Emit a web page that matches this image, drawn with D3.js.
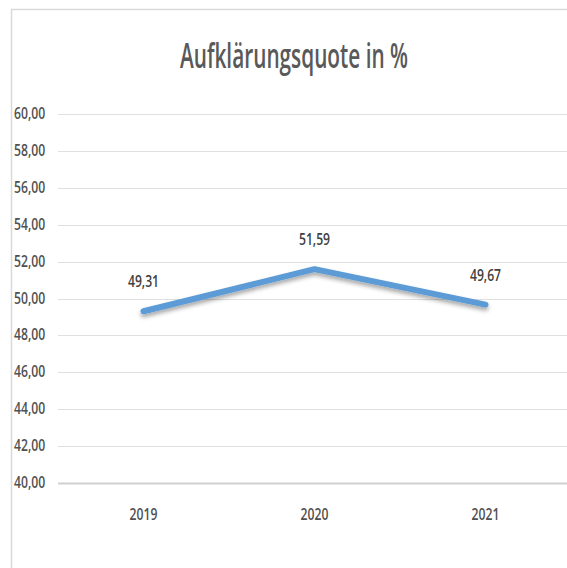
<!DOCTYPE html>
<html>
<head>
<meta charset="utf-8">
<script src="https://cdn.jsdelivr.net/npm/d3@7"></script>
<style>
  body { margin: 0; background: #fff; }
  text { font-family: "Open Sans", "Noto Sans", sans-serif; font-weight: 600; }
</style>
</head>
<body>
<div id="chart"></div>
<script>
var years = ["2019", "2020", "2021"]
var quote = [49.31, 51.59, 49.67]
var yTicks = [40, 42, 44, 46, 48, 50, 52, 54, 56, 58, 60]
var title = "Aufklärungsquote in %"

var width = 567, height = 568
var margin = {top: 114, right: -4, bottom: 85, left: 58}
var squeeze = 0.76 // the source picture is narrowed horizontally

var de = d3.formatLocale({decimal: ",", thousands: ".", grouping: [3], currency: ["", " €"]})
var fmt = de.format(".2f")

var svg = d3.select("#chart").append("svg")
  .attr("width", width)
  .attr("height", height)

// shadow under the line
var defs = svg.append("defs")
var f = defs.append("filter").attr("id", "shadow").attr("x", "-10%").attr("y", "-50%").attr("width", "120%").attr("height", "200%")
f.append("feDropShadow").attr("dx", 0).attr("dy", 3).attr("stdDeviation", 2).attr("flood-color", "#000").attr("flood-opacity", 0.35)

// narrow every label like the original
function narrow(sel, k) {
  sel.each(function() {
    var l = this.getComputedTextLength()
    d3.select(this).attr("textLength", l * (k || squeeze)).attr("lengthAdjust", "spacingAndGlyphs")
  })
}

// chart area border
svg.append("path")
  .attr("d", "M11.5," + height + "V9.5H" + width)
  .attr("fill", "none")
  .attr("stroke", "#d9d9d9")
  .attr("stroke-width", 1.5)

svg.append("text")
  .attr("x", 294)
  .attr("y", 68)
  .attr("text-anchor", "middle")
  .style("font-size", "34px")
  .style("fill", "#595959")
  .text(title)
  .attr("textLength", 228)
  .attr("lengthAdjust", "spacingAndGlyphs")

var x = d3.scaleBand().domain(years).range([margin.left, width - margin.right])
var y = d3.scaleLinear().domain([40, 60]).range([height - margin.bottom, margin.top])

// gridlines
svg.selectAll(".grid").data(yTicks).enter().append("line")
  .attr("x1", margin.left)
  .attr("x2", width)
  .attr("y1", function(d) { return Math.round(y(d)) + 0.5 })
  .attr("y2", function(d) { return Math.round(y(d)) + 0.5 })
  .attr("stroke", function(d) { return d == 40 ? "#d0d0d0" : "#e0e0e0" })
  .attr("stroke-width", function(d) { return d == 40 ? 2 : 1 })

// y labels
svg.selectAll(".ylab").data(yTicks).enter().append("text")
  .attr("x", 14)
  .attr("y", function(d) { return y(d) + 5 })
  .style("font-size", "16px")
  .style("fill", "#505050")
  .text(function(d) { return fmt(d) })
  .call(narrow)

// x labels
svg.selectAll(".xlab").data(years).enter().append("text")
  .attr("x", function(d) { return x(d) + x.bandwidth() / 2 })
  .attr("y", 520)
  .attr("text-anchor", "middle")
  .style("font-size", "16px")
  .style("fill", "#505050")
  .text(function(d) { return d })
  .call(narrow)

var line = d3.line()
  .x(function(d, i) { return x(years[i]) + x.bandwidth() / 2 })
  .y(function(d) { return y(d) })

svg.append("path")
  .datum(quote)
  .attr("d", line)
  .attr("fill", "none")
  .attr("stroke", "#5b9bd5")
  .attr("stroke-width", 6)
  .attr("stroke-linecap", "round")
  .attr("stroke-linejoin", "round")
  .attr("filter", "url(#shadow)")

// data labels
svg.selectAll(".dlab").data(quote).enter().append("text")
  .attr("x", function(d, i) { return x(years[i]) + x.bandwidth() / 2 })
  .attr("y", function(d) { return y(d) - 24 })
  .attr("text-anchor", "middle")
  .style("font-size", "16px")
  .style("fill", "#404040")
  .text(function(d) { return fmt(d) })
  .call(narrow)
</script>
</body>
</html>
